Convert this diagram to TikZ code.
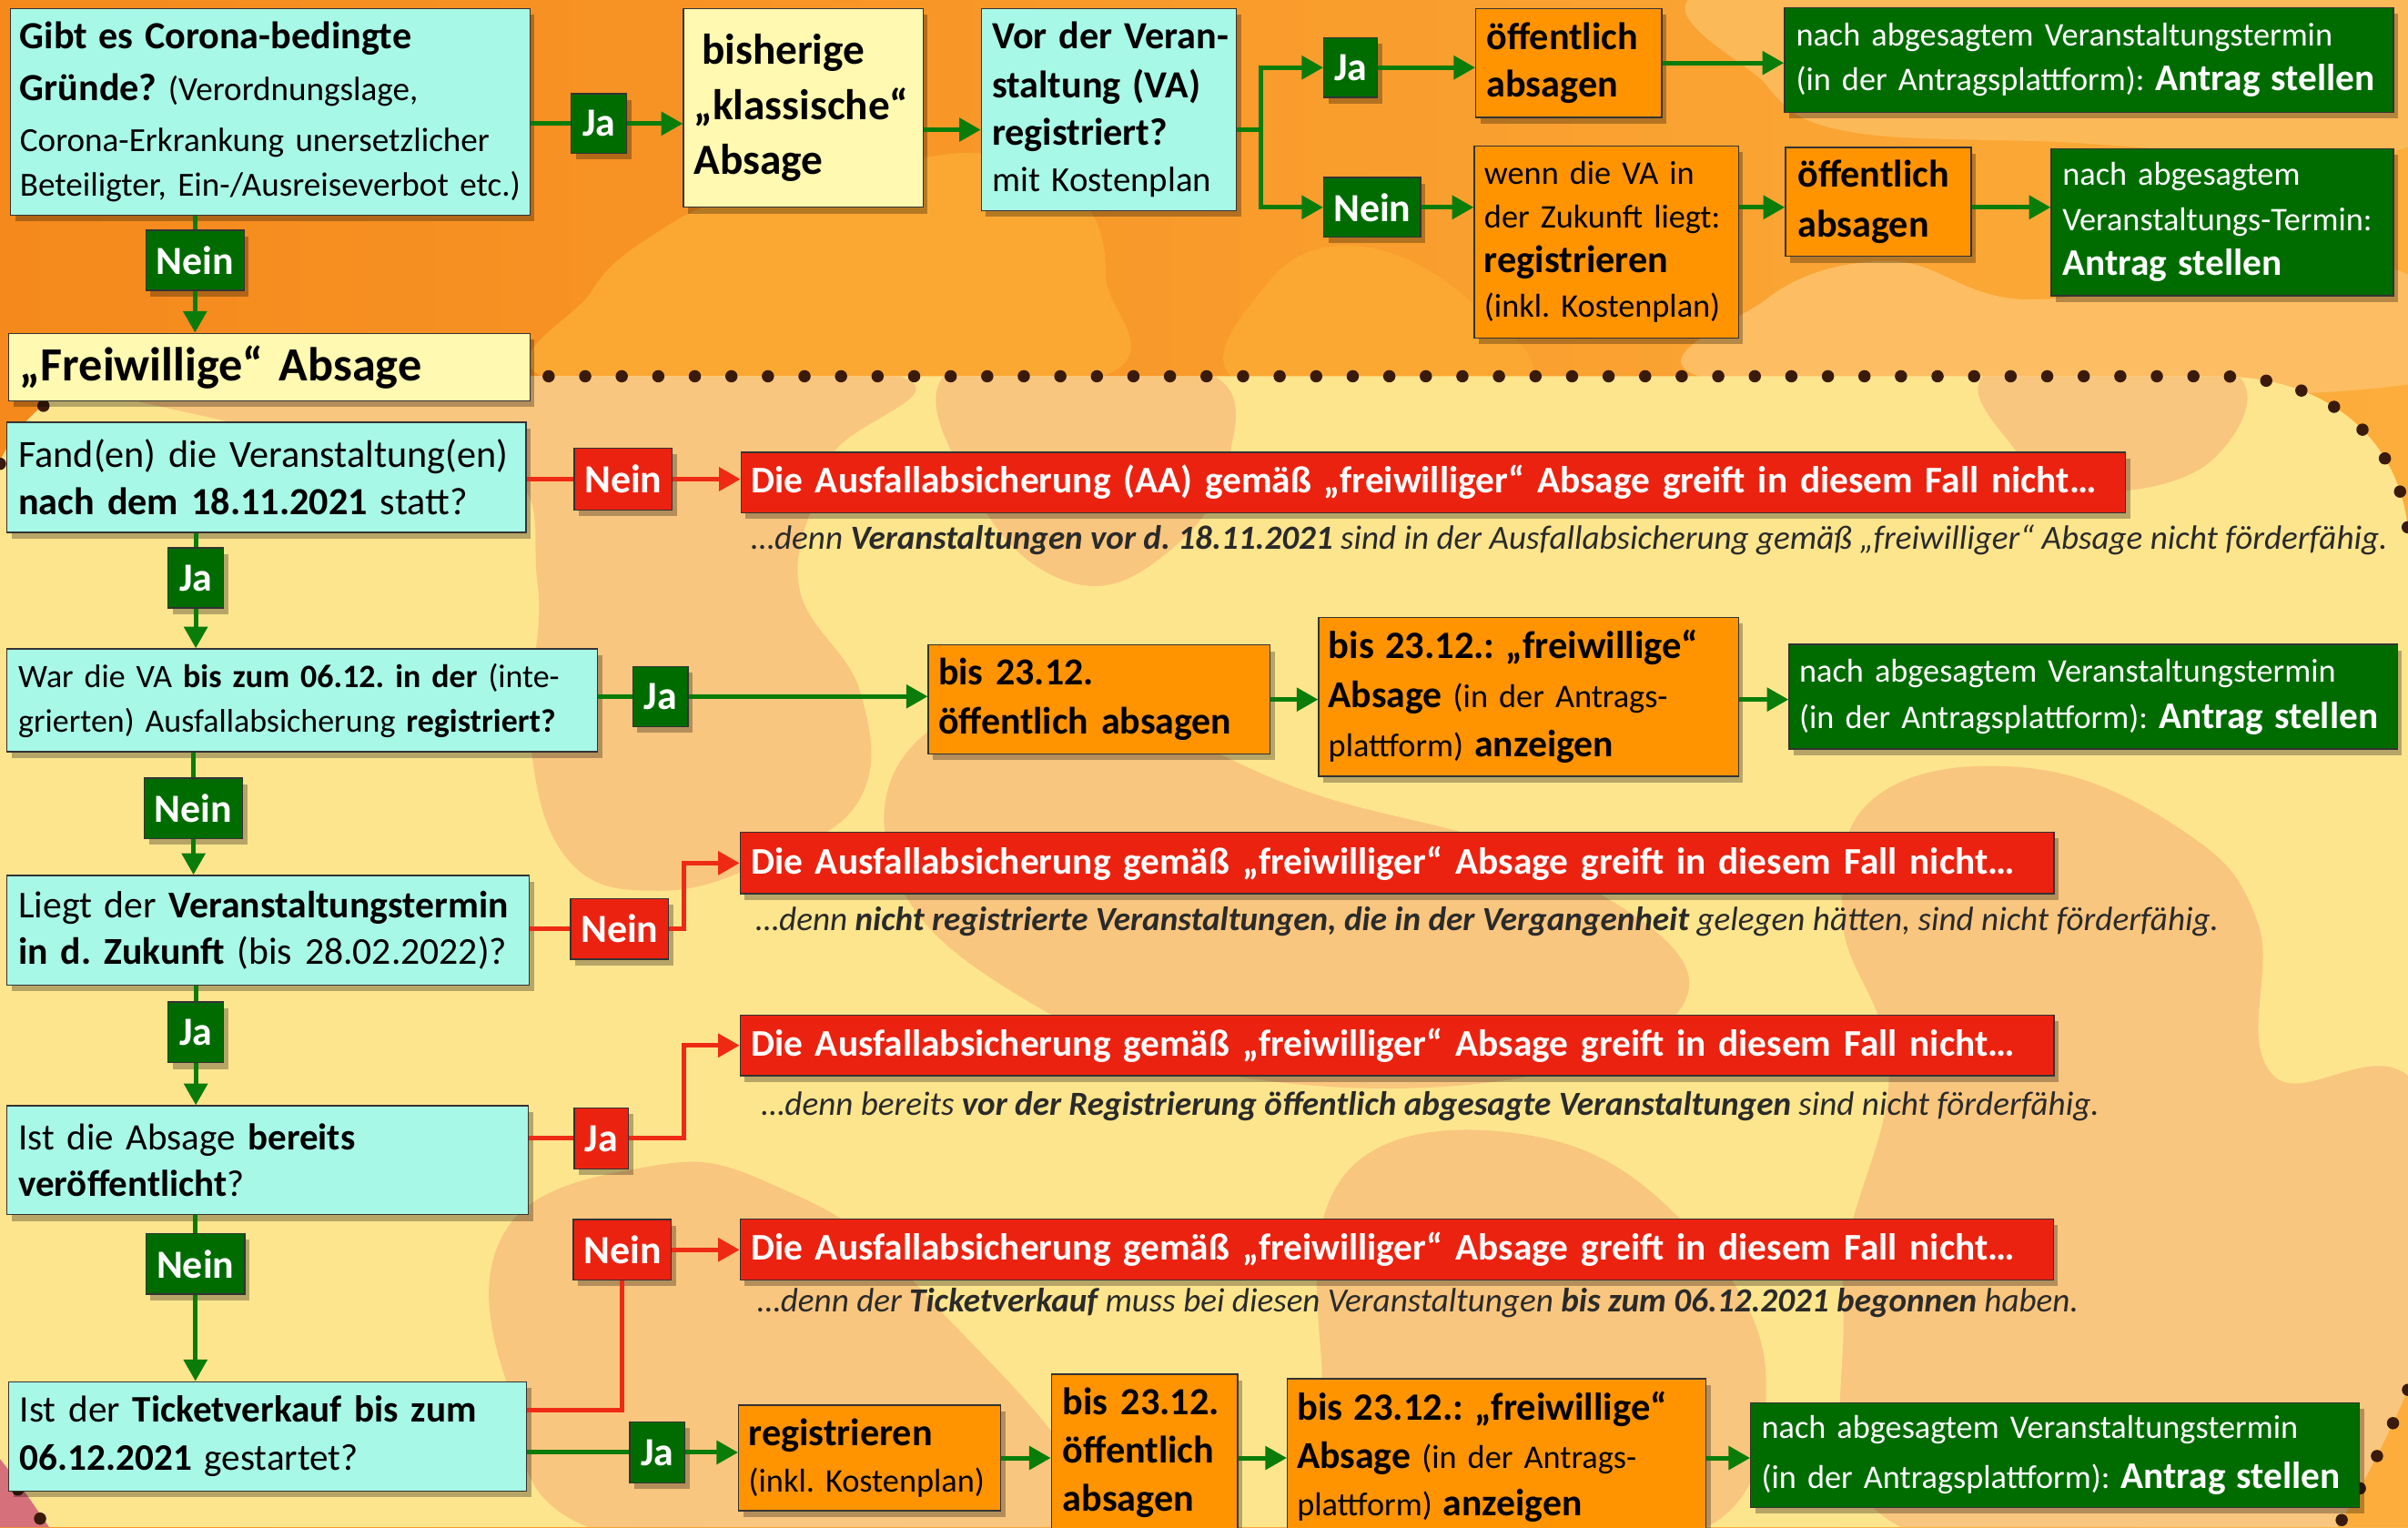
\documentclass[tikz,border=0pt]{standalone}
\usepackage{fontspec}
\setmainfont{Carlito}
\usetikzlibrary{arrows.meta,shadows}
\definecolor{cyanc}{HTML}{A8F8E7}
\definecolor{ylwc}{HTML}{FFF9B1}
\definecolor{orgc}{HTML}{FF9400}
\definecolor{grnc}{HTML}{006C00}
\definecolor{redc}{HTML}{EC2210}
\definecolor{lgrn}{HTML}{0A7C0A}
\definecolor{lred}{HTML}{EE2A14}
\definecolor{topL}{HTML}{F5891C}
\definecolor{topR}{HTML}{FCAD3B}
\definecolor{topblob}{HTML}{FBA833}
\definecolor{lowbg}{HTML}{FDE58E}
\definecolor{lowblob}{HTML}{F9C67F}
\definecolor{dotc}{HTML}{3A1B0B}
\definecolor{pinkc}{HTML}{D6707A}
\definecolor{expc}{HTML}{2A2A2A}
\newcommand\myfs[2]{\fontsize{#1}{#2}\selectfont}
\newcommand\lns[1]{\mbox{#1}}
\frenchspacing
\tikzset{
  bx/.style={draw=black!80, line width=0.8pt, inner ysep=0pt, align=left,
    drop shadow={shadow xshift=3pt, shadow yshift=-4pt, opacity=0.28, fill=black}},
  cyanbox/.style={bx, fill=cyanc, text=black},
  ylwbox/.style={bx, fill=ylwc, text=black},
  orgbox/.style={bx, fill=orgc, text=black},
  grnbox/.style={bx, fill=grnc, text=white},
  redbox/.style={bx, fill=redc, text=white, font=\bfseries\myfs{24.5}{28}},
  glab/.style={bx, fill=grnc, text=white, inner xsep=0pt, align=center, font=\bfseries\myfs{26}{28}},
  rlab/.style={glab, fill=redc},
  gline/.style={draw=lgrn, line width=3pt},
  garr/.style={gline, -{Triangle[length=14pt,width=15pt]}},
  rline/.style={draw=lred, line width=3pt},
  rarr/.style={rline, -{Triangle[length=14pt,width=15pt]}},
  expl/.style={anchor=base west, inner sep=0pt, text=expc, font=\itshape\myfs{22}{26}},
  dots/.style={draw=dotc, line width=8pt, line cap=round, dash pattern=on 0pt off 23.8pt}
}
\begin{document}
\begin{tikzpicture}[x=1pt,y=-1pt]
\useasboundingbox (0,0) rectangle (1568,994.4);
% ---------- background ----------
\shade[left color=topL, right color=topR] (0,0) rectangle (1568,994.4);
\fill[topblob] plot[smooth cycle, tension=0.7] coordinates {(370,250) (385,190) (430,150) (480,128) (560,112) (640,100) (700,125) (720,180) (700,250)};
\fill[topblob] plot[smooth cycle, tension=0.7] coordinates {(810,250) (825,185) (880,160) (950,190) (990,250)};
\fill[topR!80!white] plot[smooth cycle, tension=0.7] coordinates {(1130,250) (1150,195) (1230,170) (1320,195) (1450,175) (1570,180) (1570,250)};
\fill[topR!85!white] plot[smooth cycle, tension=0.6] coordinates {(1125,-10) (1150,55) (1200,85) (1330,92) (1570,95) (1570,-10)};
\fill[lowbg] (0,300) .. controls (15,270) and (40,245) .. (90,245) -- (1444,245) .. controls (1515,245) and (1562,285) .. (1568,345) -- (1568,994.4) -- (0,994.4) -- cycle;
\begin{scope}
\clip (0,300) .. controls (15,270) and (40,245) .. (90,245) -- (1444,245) .. controls (1515,245) and (1562,285) .. (1568,345) -- (1568,994.4) -- (0,994.4) -- cycle;
\fill[lowblob] plot[smooth cycle, tension=0.7] coordinates {(80,240) (560,240) (540,300) (520,380) (560,450) (560,520) (500,560) (430,580) (370,560) (345,480) (350,380) (320,300) (150,275)};
\fill[lowblob] plot[smooth cycle, tension=0.7] coordinates {(620,240) (780,240) (800,300) (760,360) (700,380) (640,330)};
\fill[lowblob] plot[smooth cycle, tension=0.7] coordinates {(600,480) (700,455) (850,515) (1000,560) (1100,640) (1000,700) (800,700) (650,640) (580,560)};
\fill[lowblob] plot[smooth cycle, tension=0.7] coordinates {(330,800) (420,760) (500,770) (600,840) (700,1000) (400,1000) (330,900)};
\fill[lowblob] plot[smooth cycle, tension=0.7] coordinates {(1220,520) (1320,500) (1420,540) (1470,600) (1480,700) (1580,720) (1580,1000) (1250,1000) (1200,850) (1230,700) (1200,600)};
\fill[lowblob] plot[smooth cycle, tension=0.7] coordinates {(1300,240) (1450,240) (1440,300) (1360,320) (1310,290)};
\fill[lowblob] plot[smooth cycle, tension=0.7] coordinates {(880,760) (1000,740) (1100,800) (1150,900) (1100,1000) (900,1000) (860,880)};
\end{scope}
\fill[pinkc] (0,950) .. controls (12,965) and (22,980) .. (32,994.4) -- (0,994.4) -- cycle;
\fill[topR] (1568,905) .. controls (1555,935) and (1540,965) .. (1522,994.4) -- (1568,994.4) -- cycle;
\draw[dots] (0,302) .. controls (15,270) and (40,245) .. (90,245) -- (1444,245) .. controls (1515,245) and (1562,285) .. (1568,345);
\draw[dots] (-4,952) .. controls (10,967) and (20,980) .. (30,994.4);
\draw[dots] (1568,905) .. controls (1555,935) and (1540,965) .. (1522,994.4);
% ---------- top part ----------
\node[cyanbox, minimum width=338pt, minimum height=134.5pt, inner xsep=6pt, text width=326pt, font=\myfs{22}{29}] (Q1) at (176,72.75)
{\lns{\myfs{25}{29}\bfseries Gibt es Corona-bedingte}\\[5pt]
 \lns{{\myfs{25}{29}\bfseries Gründe?} (Verordnungslage,}\\[4pt]
 \lns{Corona-Erkrankung unersetzlicher}\\
 \lns{Beteiligter, Ein-/Ausreiseverbot etc.)}};
\node[ylwbox, minimum width=156pt, minimum height=129.5pt, inner xsep=7pt, text width=142pt, font=\bfseries\myfs{28}{36}] (K) at (523,70.25)
{\lns{\hspace*{5pt}bisherige}\\ \lns{„klassische“}\\ \lns{Absage}};
\node[cyanbox, minimum width=166pt, minimum height=131.5pt, inner xsep=7pt, text width=152pt, font=\myfs{23}{30}] (VR) at (722,71.25)
{\lns{\bfseries\myfs{25}{30}Vor der Veran-}\\[2pt] \lns{\bfseries\myfs{25}{30}staltung (VA)}\\[1pt] \lns{\bfseries\myfs{25}{30}registriert?}\\ \lns{mit Kostenplan}};
\node[glab, minimum width=36pt, minimum height=39pt] (J1) at (390,80.5) {Ja};
\node[glab, minimum width=64pt, minimum height=39pt] (N1) at (127,169.5) {Nein};
\node[glab, minimum width=35pt, minimum height=39pt] (J2) at (879.5,44) {Ja};
\node[glab, minimum width=63pt, minimum height=39pt] (N2) at (893.5,135) {Nein};
\node[orgbox, minimum width=121pt, minimum height=71pt, inner xsep=7pt, text width=107pt, font=\bfseries\myfs{25}{30.5}] (O1) at (1021.5,41)
{\lns{öffentlich}\\ \lns{absagen}};
\node[grnbox, minimum width=396.5pt, minimum height=68pt, inner xsep=7.5pt, text width=381.5pt, font=\myfs{21.5}{29.4}] (G1) at (1360.25,39)
{\lns{nach abgesagtem Veranstaltungstermin}\\ \lns{(in der Antragsplattform): {\bfseries\myfs{24.5}{29}Antrag stellen}}};
\node[orgbox, minimum width=172pt, minimum height=125pt, inner xsep=6.5pt, text width=159pt, font=\myfs{21.5}{29}] (WZ) at (1046,157.5)
{\lns{wenn die VA in}\\ \lns{der Zukunft liegt:}\\ \lns{\bfseries\myfs{25}{29}registrieren}\\ \lns{(inkl. Kostenplan)}};
\node[orgbox, minimum width=121pt, minimum height=71pt, inner xsep=8pt, text width=105pt, font=\bfseries\myfs{25}{33}] (O2) at (1223.1,131.5)
{\lns{öffentlich}\\ \lns{absagen}};
\node[grnbox, minimum width=222.8pt, minimum height=95.9pt, inner xsep=7.3pt, text width=208.2pt, font=\myfs{21.5}{29.3}] (G2) at (1447.1,144.65)
{\lns{nach abgesagtem}\\ \lns{Veranstaltungs-Termin:}\\ \lns{\bfseries\myfs{24.5}{29}Antrag stellen}};
\node[ylwbox, minimum width=339.3pt, minimum height=44pt, inner xsep=7.3pt, text width=324.7pt, font=\bfseries\myfs{31}{34}] (FA) at (175.35,239)
{\lns{„Freiwillige“ Absage}};
% ---------- lower part ----------
\node[cyanbox, minimum width=338pt, minimum height=71.7pt, inner xsep=7.5pt, text width=323pt, font=\myfs{25}{31}] (Q2) at (173.5,310.85)
{\lns{Fand(en) die Veranstaltung(en)}\\ \lns{{\bfseries nach dem 18.11.2021} statt?}};
\node[rlab, minimum width=63.6pt, minimum height=40pt] (N3) at (405.8,312) {Nein};
\node[redbox, minimum width=901.4pt, minimum height=39.3pt, inner xsep=6.4pt, text width=888.6pt] (R1) at (933.3,314.15)
{\lns{Die Ausfallabsicherung (AA) gemäß „freiwilliger“ Absage greift in diesem Fall nicht…}};
\node[expl] (E1) at (489,357.5) {…denn {\bfseries Veranstaltungen vor d. 18.11.2021} sind in der Ausfallabsicherung gemäß „freiwilliger“ Absage nicht förderfähig.};
\node[glab, minimum width=36pt, minimum height=39pt] (J3) at (127.5,376.3) {Ja};
\node[cyanbox, minimum width=384.5pt, minimum height=67pt, inner xsep=7.5pt, text width=369.5pt, font=\myfs{21.3}{29}] (Q3) at (196.75,456)
{\lns{War die VA {\bfseries bis zum 06.12. in der} (inte-}\\ \lns{grierten) Ausfallabsicherung {\bfseries registriert?}}};
\node[glab, minimum width=36pt, minimum height=39pt] (J4) at (430,453.5) {Ja};
\node[orgbox, minimum width=222.5pt, minimum height=71pt, inner xsep=6.5pt, text width=209.5pt, font=\bfseries\myfs{24.8}{32}] (B1) at (715.75,455.5)
{\lns{bis 23.12.}\\ \lns{öffentlich absagen}};
\node[orgbox, minimum width=273.3pt, minimum height=103.5pt, inner xsep=6.3pt, text width=260.7pt, font=\myfs{21.5}{32}] (B2) at (995.35,453.75)
{\lns{\bfseries\myfs{25.2}{32}bis 23.12.: „freiwillige“}\\ \lns{{\bfseries\myfs{24.7}{32}Absage} (in der Antrags-}\\ \lns{plattform) {\bfseries\myfs{24.7}{32}anzeigen}}};
\node[grnbox, minimum width=396pt, minimum height=68.2pt, inner xsep=6.6pt, text width=382.8pt, font=\myfs{21.5}{30}] (G3) at (1363,453.7)
{\lns{nach abgesagtem Veranstaltungstermin}\\ \lns{(in der Antragsplattform): {\bfseries\myfs{24.5}{30}Antrag stellen}}};
\node[glab, minimum width=64pt, minimum height=39.3pt] (N4) at (126,526.35) {Nein};
\node[cyanbox, minimum width=340.2pt, minimum height=71.6pt, inner xsep=7.5pt, text width=325.2pt, font=\myfs{24.7}{30.5}] (Q4) at (174.6,605.8)
{\lns{Liegt der {\bfseries Veranstaltungstermin}}\\ \lns{{\bfseries in d. Zukunft} (bis 28.02.2022)?}};
\node[rlab, minimum width=63.9pt, minimum height=39.6pt] (N5) at (403.45,604.8) {Nein};
\node[redbox, minimum width=855.5pt, minimum height=40pt, inner xsep=7pt, text width=841.5pt] (R2) at (909.75,562)
{\lns{Die Ausfallabsicherung gemäß „freiwilliger“ Absage greift in diesem Fall nicht…}};
\node[expl] (E2) at (492,606) {…denn {\bfseries nicht registrierte Veranstaltungen, die in der Vergangenheit} gelegen hätten, sind nicht förderfähig.};
\node[glab, minimum width=36pt, minimum height=39.5pt] (J5) at (127.5,672.25) {Ja};
\node[cyanbox, minimum width=339.5pt, minimum height=71pt, inner xsep=7.5pt, text width=324.5pt, font=\myfs{24.3}{30.3}] (Q5) at (174.25,755.5)
{\lns{Ist die Absage {\bfseries bereits}}\\ \lns{{\bfseries veröffentlicht}?}};
\node[rlab, minimum width=35.3pt, minimum height=39.4pt] (J6) at (391.65,741.3) {Ja};
\node[redbox, minimum width=855.5pt, minimum height=39.5pt, inner xsep=7pt, text width=841.5pt] (R3) at (909.75,680.75)
{\lns{Die Ausfallabsicherung gemäß „freiwilliger“ Absage greift in diesem Fall nicht…}};
\node[expl] (E3) at (495.7,726) {…denn bereits {\bfseries vor der Registrierung öffentlich abgesagte Veranstaltungen} sind nicht förderfähig.};
\node[glab, minimum width=64.5pt, minimum height=39.3pt] (N6) at (127.25,823) {Nein};
\node[cyanbox, minimum width=337.3pt, minimum height=71.1pt, inner xsep=7.3pt, text width=322.7pt, font=\myfs{24.4}{31.6}] (Q6) at (174.35,935.25)
{\lns{Ist der {\bfseries Ticketverkauf bis zum}}\\ \lns{{\bfseries 06.12.2021} gestartet?}};
\node[rlab, minimum width=63.8pt, minimum height=39.6pt] (N7) at (405.3,813.8) {Nein};
\node[redbox, minimum width=855pt, minimum height=40pt, inner xsep=7pt, text width=841pt] (R4) at (909.5,813.6)
{\lns{Die Ausfallabsicherung gemäß „freiwilliger“ Absage greift in diesem Fall nicht…}};
\node[expl] (E4) at (493,854.3) {…denn der {\bfseries Ticketverkauf} muss bei diesen Veranstaltungen {\bfseries bis zum 06.12.2021 begonnen} haben.};
\node[glab, minimum width=36pt, minimum height=39.5pt] (J7) at (428,945.75) {Ja};
\node[orgbox, minimum width=170.7pt, minimum height=68.7pt, inner xsep=6.5pt, text width=157.7pt, font=\myfs{21.5}{30}] (RG) at (566.35,949.35)
{\lns{\bfseries\myfs{25}{30}registrieren}\\ \lns{(inkl. Kostenplan)}};
\node[orgbox, minimum width=121.4pt, minimum height=102.2pt, inner xsep=7.4pt, text width=106.6pt, font=\bfseries\myfs{25}{31.3}] (B3) at (745.3,945.9)
{\lns{bis 23.12.}\\ \lns{öffentlich}\\ \lns{absagen}};
\node[orgbox, minimum width=272.5pt, minimum height=102pt, inner xsep=6.3pt, text width=259.9pt, font=\myfs{21.5}{31}] (B4) at (974.55,948.8)
{\lns{\bfseries\myfs{25.2}{31}bis 23.12.: „freiwillige“}\\ \lns{{\bfseries\myfs{24.7}{31}Absage} (in der Antrags-}\\ \lns{plattform) {\bfseries\myfs{24.7}{31}anzeigen}}};
\node[grnbox, minimum width=396.3pt, minimum height=68.1pt, inner xsep=7pt, text width=382.3pt, font=\myfs{21.5}{32.7}] (G4) at (1338.15,947.65)
{\lns{nach abgesagtem Veranstaltungstermin}\\ \lns{(in der Antragsplattform): {\bfseries\myfs{24.5}{32}Antrag stellen}}};
% ---------- connectors top ----------
\draw[gline] (Q1.east |- J1.west) -- (J1.west);
\draw[garr] (J1.east) -- (K.west |- J1.east);
\draw[gline] (Q1.south -| N1.north) -- (N1.north);
\draw[garr] (N1.south) -- (FA.north -| N1.south);
\coordinate (sp) at (821,84.5);
\draw[garr] (K.east |- sp) -- (VR.west |- sp);
\draw[gline] (VR.east |- sp) -- (sp);
\draw[garr] (sp) |- (J2.west);
\draw[garr] (sp) |- (N2.west);
\draw[garr] (J2.east) -- (O1.west |- J2.east);
\draw[garr] (O1.east) -- (G1.west |- O1.east);
\draw[garr] (N2.east) -- (WZ.west |- N2.east);
\draw[garr] (WZ.east |- N2.east) -- (O2.west |- N2.east);
\draw[garr] (O2.east |- N2.east) -- (G2.west |- N2.east);
% ---------- connectors lower ----------
\draw[rline] (Q2.east |- N3.west) -- (N3.west);
\draw[rarr] (N3.east) -- (R1.west |- N3.east);
\draw[gline] (Q2.south -| J3.north) -- (J3.north);
\draw[garr] (J3.south) -- (Q3.north -| J3.south);
\draw[gline] (Q3.east |- J4.west) -- (J4.west);
\draw[garr] (J4.east) -- (B1.west |- J4.east);
\draw[garr] (B1.east) -- (B2.west |- B1.east);
\draw[garr] (B2.east |- B1.east) -- (G3.west |- B1.east);
\draw[gline] (Q3.south -| N4.north) -- (N4.north);
\draw[garr] (N4.south) -- (Q4.north -| N4.south);
\draw[rline] (Q4.east |- N5.west) -- (N5.west);
\draw[rarr] (N5.east) -- ++(9.6,0) |- (R2.west);
\draw[gline] (Q4.south -| J5.north) -- (J5.north);
\draw[garr] (J5.south) -- (Q5.north -| J5.south);
\draw[rline] (Q5.east |- J6.west) -- (J6.west);
\draw[rarr] (J6.east) -- ++(35.7,0) |- (R3.west);
\draw[gline] (Q5.south -| N6.north) -- (N6.north);
\draw[garr] (N6.south) -- (Q6.north -| N6.south);
\draw[rline] ([yshift=17pt]Q6.east) -| (N7.south);
\draw[rarr] (N7.east) -- (R4.west |- N7.east);
\draw[gline] (Q6.east |- J7.west) -- (J7.west);
\draw[garr] (J7.east) -- (RG.west |- J7.east);
\draw[garr] (RG.east) -- (B3.west |- RG.east);
\draw[garr] (B3.east |- RG.east) -- (B4.west |- RG.east);
\draw[garr] (B4.east |- RG.east) -- (G4.west |- RG.east);
\end{tikzpicture}
\end{document}
